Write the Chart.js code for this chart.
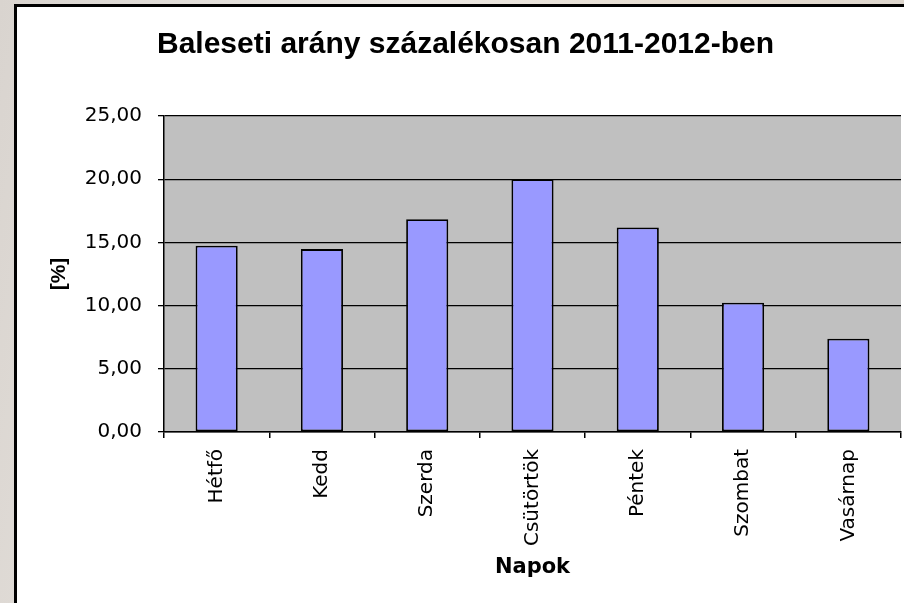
<!DOCTYPE html>
<html>
<head>
<meta charset="utf-8">
<script src="https://cdn.jsdelivr.net/npm/chart.js@4/dist/chart.umd.min.js"></script>
<style>
  html, body { margin: 0; padding: 0; }
  body {
    width: 904px; height: 603px; overflow: hidden; position: relative;
    background: linear-gradient(100deg, #d9d4cf 0%, #ece8e3 40%, #e6dccf 70%, #d8d2cc 100%);
  }
  #frame {
    position: absolute; left: 14px; top: 4px; width: 903px; height: 620px;
    background: #fff; border: 3px solid #000; box-sizing: border-box;
  }
  #wrap { position: absolute; left: 0; top: 0; width: 904px; height: 603px; }
</style>
</head>
<body>
<div id="frame"></div>
<div id="wrap"><canvas id="chart"></canvas></div>
<script>
// day names and accident share (%)
const days = ['Hétfő', 'Kedd', 'Szerda', 'Csütörtök', 'Péntek', 'Szombat', 'Vasárnap'];
const rates = [14.73, 14.47, 16.84, 20.0, 16.18, 10.22, 7.38];
const yTickValues = [0, 5, 10, 15, 20, 25];
const yTickLabels = ['0,00', '5,00', '10,00', '15,00', '20,00', '25,00'];

// grey plot area like the old Excel charts
const plotBackground = {
    id: 'plotBackground',
    beforeDraw(chart) {
        const { ctx, chartArea } = chart;
        ctx.save();
        ctx.fillStyle = '#c0c0c0';
        ctx.fillRect(chartArea.left, chartArea.top, chartArea.right - chartArea.left, chartArea.bottom - chartArea.top);
        ctx.restore();
    }
};

document.addEventListener("DOMContentLoaded", function() {
    const ctx = document.getElementById('chart').getContext('2d');

    new Chart(ctx, {
        type: 'bar',
        data: {
            labels: days,
            datasets: [{
                label: 'Baleseti arány',
                data: rates,
                backgroundColor: '#9999ff',
                borderColor: '#000000',
                borderWidth: 1.8,
                borderSkipped: false,
                barPercentage: 0.4,
                categoryPercentage: 1.0
            }]
        },
        options: {
            responsive: true,
            maintainAspectRatio: false,
            animation: false,
            layout: { padding: { left: 30, right: 3, top: 0, bottom: 0 } },
            plugins: {
                legend: { display: false },
                tooltip: { enabled: false },
                title: {
                    display: true,
                    text: 'Baleseti arány százalékosan 2011-2012-ben',
                    color: '#000',
                    font: { family: 'Liberation Sans', size: 30, weight: 'bold' },
                    padding: { top: 27, bottom: 53 }
                }
            },
            scales: {
                x: {
                    offset: true,
                    grid: {
                        display: true,
                        offset: true,
                        drawOnChartArea: false,
                        drawTicks: true,
                        tickLength: 6,
                        color: '#000',
                        lineWidth: 1.5
                    },
                    border: { display: true, color: '#000', width: 1.5 },
                    ticks: {
                        color: '#000',
                        font: { family: 'DejaVu Sans', size: 20 },
                        minRotation: 90,
                        maxRotation: 90,
                        padding: 11,
                        autoSkip: false
                    },
                    title: {
                        display: true,
                        text: 'Napok',
                        color: '#000',
                        font: { family: 'DejaVu Sans', size: 21, weight: 'bold' },
                        padding: { top: 0, bottom: 23 }
                    },
                    afterFit(scale) { scale.height = 171; }
                },
                y: {
                    min: 0,
                    max: 25,
                    grid: {
                        color: '#000',
                        lineWidth: 1.3,
                        drawTicks: true,
                        tickLength: 6
                    },
                    border: { display: true, color: '#000', width: 1.5 },
                    afterBuildTicks(scale) {
                        scale.ticks = yTickValues.map(v => ({ value: v }));
                    },
                    ticks: {
                        color: '#000',
                        font: { family: 'DejaVu Sans', size: 20 },
                        padding: 16,
                        callback: function(value) {
                            return yTickLabels[yTickValues.indexOf(value)];
                        }
                    },
                    title: {
                        display: true,
                        text: '[%]',
                        color: '#000',
                        font: { family: 'Liberation Sans', size: 21, weight: 'bold' },
                        padding: { top: 17, bottom: 0 }
                    },
                    afterFit(scale) { scale.width = 134; }
                }
            }
        },
        plugins: [plotBackground]
    });
});
</script>
</body>
</html>
